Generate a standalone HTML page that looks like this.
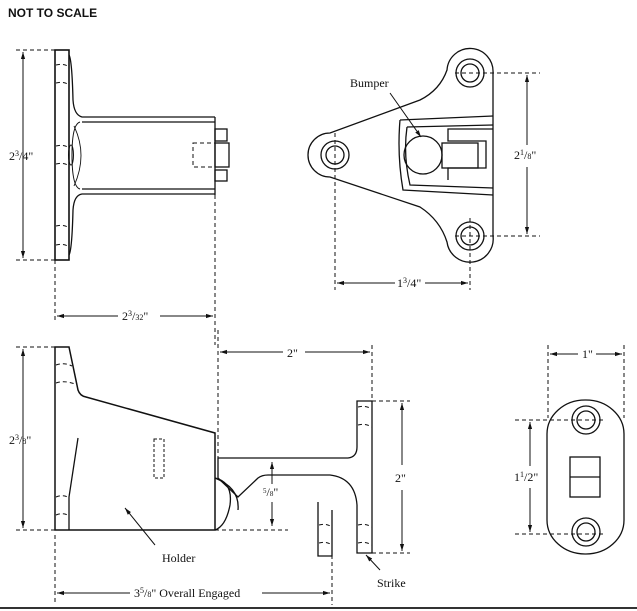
<!DOCTYPE html>
<html><head><meta charset="utf-8"><style>
html,body{margin:0;padding:0;background:#fff;}
svg{display:block;}
text{font-family:"Liberation Serif",serif;font-size:12px;fill:#111;}
</style></head><body>
<svg width="637" height="611" viewBox="0 0 637 611" xmlns="http://www.w3.org/2000/svg">
<defs>
<marker id="a" viewBox="0 0 10 10" refX="10" refY="5" markerWidth="7" markerHeight="7" orient="auto-start-reverse"><path d="M0,2 L10,5 L0,8 z" fill="#111"/></marker>
</defs>
<text x="8" y="17" style="font-family:'Liberation Sans',sans-serif;font-size:12px;font-weight:bold">NOT TO SCALE</text>

<g fill="none" stroke="#111" stroke-width="1.3">
<!-- TOP LEFT VIEW -->
<rect x="55" y="50" width="14" height="210" stroke-width="1.6"/>
<path d="M69,55 Q72,60 73,100 Q74,115 82,117 L215,117 M82,122 L215,122 M82,189 L215,189 M69,255 Q72,250 73,210 Q74,195 82,194 L215,194 M215,117 L215,195"/>
<path d="M80,122 Q72,124 72,155 Q72,187 80,189" stroke-width="1"/>
<path d="M74,126 Q88,155 74,186" stroke-width="0.9"/>
<ellipse cx="71" cy="155" rx="2.5" ry="10" stroke-width="1"/>
<rect x="215" y="129" width="12" height="12"/>
<rect x="215" y="143" width="14" height="24"/>
<rect x="215" y="170" width="12" height="11"/>
<g stroke-dasharray="4,3" stroke-width="1">
<rect x="193" y="143" width="22" height="24"/>
<path d="M16,50 H55 M16,260 H55 M55,260 V322 M215,195 V345"/>
<path d="M56,65 Q64,63 69,67 M56,83 Q64,81 69,85 M56,146 Q64,144 69,148 M56,164 Q64,162 69,166 M56,226 Q64,224 69,228 M56,245 Q64,243 69,247"/>
</g>
<path d="M23,52 V258" stroke-width="1" marker-start="url(#a)" marker-end="url(#a)"/>
<path d="M57,316 H118 M160,316 H213" stroke-width="1" marker-start="url(#a)" marker-end="url(#a)"/>

<!-- TOP RIGHT VIEW -->
<path d="M493,73 A23,23 0 0 0 447,70 Q440,90 420,100 L330,133 A22,22 0 0 0 330,177 L420,207 Q440,220 447,242 A23,23 0 0 0 493,236 Z"/>
<circle cx="335" cy="155" r="14"/><circle cx="335" cy="155" r="9"/>
<circle cx="470" cy="73" r="14"/><circle cx="470" cy="73" r="9"/>
<circle cx="470" cy="236" r="14"/><circle cx="470" cy="236" r="9"/>
<path d="M400,120 L493,116 M407,127 L493,125 M400,120 Q397,155 403,190 L493,195 M407,127 Q403,155 410,185 L493,188"/>
<circle cx="423" cy="155" r="19"/>
<path d="M448,180 V168 H486 V141 H448 V129 H493"/>
<rect x="442" y="143" width="36" height="25"/>
<g stroke-dasharray="4,3" stroke-width="1">
<path d="M455,73 H540 M455,236 H540 M335,133 V290 M470,218 V290 M462,236 H478"/>
</g>
<path d="M390,93 L421,137" stroke-width="1" marker-end="url(#a)"/>
<path d="M527,75 V145 M527,167 V234" stroke-width="1" marker-start="url(#a)" marker-end="url(#a)"/>
<path d="M337,283 H395 M425,283 H468" stroke-width="1" marker-start="url(#a)" marker-end="url(#a)"/>

<!-- BOTTOM LEFT: HOLDER -->
<path d="M55,347 H69 L78,390 Q80,396 86,397 L215,433 V530 H55 Z" stroke-width="1.5"/>
<path d="M69,530 V497 L78,438"/>
<rect x="154" y="439" width="10" height="39" stroke-dasharray="3,2" stroke-width="1"/>
<path d="M215,478 Q233,482 230,505 Q226,526 215,530"/>
<path d="M215,478 Q240,488 238,510"/>
<g stroke-dasharray="4,3" stroke-width="1">
<path d="M16,347 H55 M16,530 H55 M215,530 H288 M218,330 V458 M372,345 V401 M372,401 H410 M372,553 H410 M55,535 V605 M332,555 V605"/>
<path d="M56,365 Q64,362 72,366 M56,383 Q64,380 75,384 M56,497 Q64,494 69,498 M56,515 Q64,512 69,516"/>
<path d="M358,407 Q365,405 372,409 M358,425 Q365,423 372,427 M358,525 Q365,523 372,527 M358,543 Q365,541 372,545 M319,525 Q326,523 332,527 M319,543 Q326,541 332,545"/>
</g>
<path d="M23,349 V528" stroke-width="1" marker-start="url(#a)" marker-end="url(#a)"/>
<!-- STRIKE -->
<path d="M218,478 V458 H348 Q357,457 357,447 V401 H372 V553 H357 V505 Q355,478 330,475 H268 Q262,475 258,478 L238,497 L218,478"/>
<path d="M318,502 V556 H332 V510"/>
<path d="M272,462 V484 M272,502 V526" stroke-width="1" marker-start="url(#a)" marker-end="url(#a)"/>
<path d="M220,352 H283 M305,352 H370" stroke-width="1" marker-start="url(#a)" marker-end="url(#a)"/>
<path d="M402,403 V465 M402,490 V551" stroke-width="1" marker-start="url(#a)" marker-end="url(#a)"/>
<path d="M155,545 L125,508" stroke-width="1" marker-end="url(#a)"/>
<path d="M380,570 L366,555" stroke-width="1" marker-end="url(#a)"/>
<path d="M57,593 H130 M262,593 H330" stroke-width="1" marker-start="url(#a)" marker-end="url(#a)"/>

<!-- BOTTOM RIGHT PLATE -->
<rect x="547" y="400" width="77" height="154" rx="38" ry="34"/>
<circle cx="586" cy="420" r="14"/><circle cx="586" cy="420" r="9"/>
<circle cx="586" cy="532" r="14"/><circle cx="586" cy="532" r="9"/>
<rect x="570" y="457" width="30" height="40"/>
<path d="M570,477 H600"/>
<g stroke-dasharray="4,3" stroke-width="1">
<path d="M515,420 H605 M515,534 H605 M548,345 V418 M624,345 V418"/>
</g>
<path d="M530,422 V466 M530,488 V532" stroke-width="1" marker-start="url(#a)" marker-end="url(#a)"/>
<path d="M550,354 H578 M596,354 H622" stroke-width="1" marker-start="url(#a)" marker-end="url(#a)"/>
</g>
<line x1="0" y1="608" x2="637" y2="608" stroke="#333" stroke-width="2"/>

<text x="9" y="160">2<tspan font-size="8" dy="-4">3</tspan><tspan dy="4">/4"</tspan></text>
<text x="122" y="320">2<tspan font-size="8" dy="-4">3</tspan><tspan dy="4">/</tspan><tspan font-size="8">32</tspan>"</text>
<text x="350" y="87">Bumper</text>
<text x="514" y="159">2<tspan font-size="8" dy="-4">1</tspan><tspan dy="4">/</tspan><tspan font-size="8">8</tspan>"</text>
<text x="397" y="287">1<tspan font-size="8" dy="-4">3</tspan><tspan dy="4">/4"</tspan></text>
<text x="9" y="444">2<tspan font-size="8" dy="-4">3</tspan><tspan dy="4">/</tspan><tspan font-size="8">8</tspan>"</text>
<text x="287" y="357">2"</text>
<text x="395" y="482">2"</text>
<text x="263" y="496" font-size="10"><tspan font-size="7" dy="-3">5</tspan><tspan dy="3">/</tspan><tspan font-size="7">8</tspan>"</text>
<text x="162" y="562">Holder</text>
<text x="377" y="587">Strike</text>
<text x="134" y="597">3<tspan font-size="8" dy="-4">5</tspan><tspan dy="4">/</tspan><tspan font-size="8">8</tspan>" Overall Engaged</text>
<text x="582" y="358">1"</text>
<text x="514" y="481">1<tspan font-size="8" dy="-4">1</tspan><tspan dy="4">/2"</tspan></text>
</svg>
</body></html>
